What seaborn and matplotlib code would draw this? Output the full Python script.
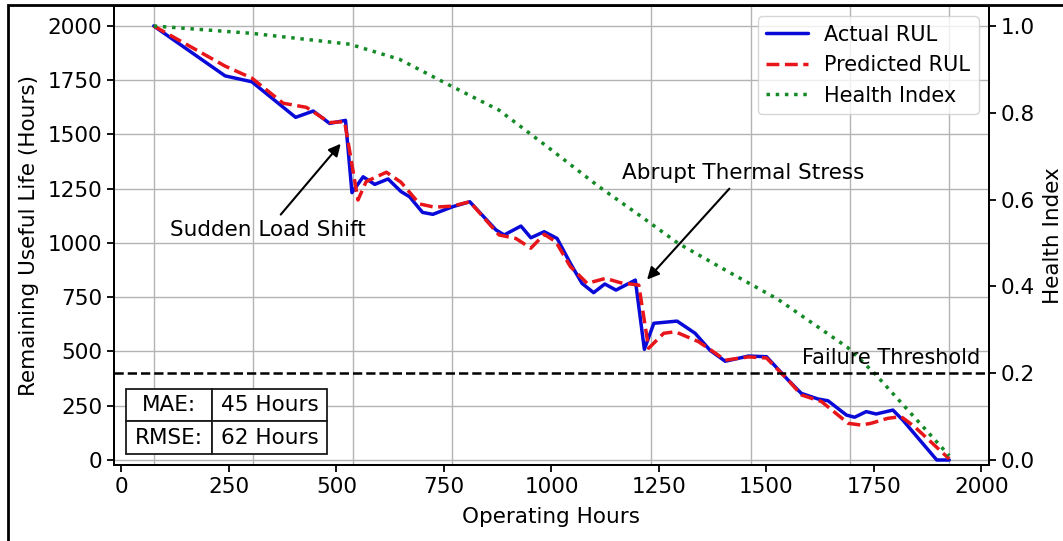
import matplotlib
matplotlib.use('Agg')
import matplotlib.pyplot as plt
from matplotlib.patches import Rectangle
import pandas as pd
import seaborn as sns

# Datos
hours_actual = [75, 241, 303, 405, 446, 484, 521, 536, 562, 589, 620, 650, 670, 700, 724,
                770, 810, 871, 890, 929, 952, 983, 1013, 1044, 1071, 1098, 1124, 1150,
                1195, 1216, 1238, 1292, 1334, 1369, 1404, 1458, 1500, 1550, 1581, 1620,
                1643, 1686, 1705, 1732, 1755, 1794, 1817, 1896, 1925]
rul_actual = [2000, 1770, 1743, 1579, 1608, 1551, 1565, 1232, 1305, 1270, 1295, 1237, 1213,
              1141, 1132, 1167, 1190, 1060, 1037, 1078, 1024, 1052, 1021, 906, 814, 771,
              811, 783, 829, 510, 630, 640, 584, 505, 455, 479, 476, 369, 307, 281, 273,
              207, 197, 223, 212, 230, 184, 0, 0]

hours_pred = [75, 241, 303, 376, 430, 484, 519, 550, 569, 616, 650, 693, 728, 770, 810,
              878, 917, 952, 983, 1010, 1044, 1083, 1126, 1160, 1203, 1226, 1261, 1288,
              1342, 1372, 1404, 1458, 1500, 1550, 1581, 1628, 1690, 1720, 1743, 1782,
              1813, 1844, 1925]
rul_pred = [2000, 1815, 1760, 1644, 1625, 1555, 1559, 1198, 1283, 1326, 1280, 1180, 1165,
            1170, 1190, 1037, 1021, 976, 1040, 1006, 891, 814, 837, 817, 806, 515, 584,
            591, 545, 505, 460, 475, 470, 369, 300, 269, 169, 161, 169, 192, 200, 154, 5]

hours_health = [75, 303, 531, 647, 762, 878, 990, 1110, 1203, 1295, 1400, 1527, 1689,
                1751, 1925]
health_index = [1.0, 0.983, 0.958, 0.923, 0.864, 0.806, 0.722, 0.630, 0.565, 0.499, 0.44,
                0.370, 0.259, 0.200, 0.01]

failure_threshold = 0.2
metric_rows = [['MAE:', '45 Hours'], ['RMSE:', '62 Hours']]
grid_hours = [75, 306, 538, 769, 1000, 1231, 1463, 1694, 1925]

df_actual = pd.DataFrame({'hours': hours_actual, 'rul': rul_actual})
df_pred = pd.DataFrame({'hours': hours_pred, 'rul': rul_pred})
df_health = pd.DataFrame({'hours': hours_health, 'hi': health_index})

sns.set_theme(style='ticks', rc={'axes.edgecolor': 'black', 'text.color': 'black',
                                 'xtick.color': 'black', 'ytick.color': 'black',
                                 'axes.labelcolor': 'black', 'axes.linewidth': 1.4})
plt.rcParams['font.family'] = ['DejaVu Sans']

fig = plt.figure(figsize=(10.63, 5.41), dpi=100)
ax = fig.add_axes([0.1072, 0.1405, 0.8232, 0.8484])
ax2 = ax.twinx()

sns.lineplot(data=df_actual, x='hours', y='rul', ax=ax, color='#0a0ad8', lw=2.5,
             legend=False, zorder=3)
sns.lineplot(data=df_pred, x='hours', y='rul', ax=ax, color='#e8161a', lw=2.5,
             linestyle='--', legend=False, zorder=3)
sns.lineplot(data=df_health, x='hours', y='hi', ax=ax2, color='#138a25', lw=2.5,
             linestyle=':', legend=False)
ax2.axhline(failure_threshold, color='black', linestyle='--', lw=1.8)
ax2.text(1998, 0.212, 'Failure Threshold', ha='right', va='bottom', fontsize=15)

# Ejes y rejilla
ax.set_xlim(-17.5, 2017.5)
ax.set_ylim(-23, 2092)
ax2.set_ylim(-0.0115, 1.046)
ax.set_xticks(range(0, 2001, 250))
ax.set_yticks(range(0, 2001, 250))
ax2.set_yticks([0.0, 0.2, 0.4, 0.6, 0.8, 1.0])
ax2.set_yticklabels(['0.0', '0.2', '0.4', '0.6', '0.8', '1.0'])
ax.set_xticks(grid_hours, minor=True)
ax.yaxis.grid(True, color='#b3b3b3', lw=1)
ax.xaxis.grid(True, which='minor', color='#b3b3b3', lw=1)
ax.tick_params(axis='x', which='minor', length=0)
ax.tick_params(axis='both', which='major', labelsize=15.5, length=5, width=1.3)
ax2.tick_params(axis='y', labelsize=15.5, length=5, width=1.3)
ax.set_xlabel('Operating Hours', fontsize=15.5, labelpad=7)
ax.set_ylabel('Remaining Useful Life (Hours)', fontsize=15.5, labelpad=6)
ax2.set_ylabel('Health Index', fontsize=15.5, labelpad=6)

# Anotaciones
arrow = dict(arrowstyle='-|>', color='black', lw=1.5, mutation_scale=18)
ax.annotate('Sudden Load Shift', xy=(514, 1467), xytext=(340, 1060), ha='center',
            va='center', fontsize=15.5, arrowprops=arrow)
ax.annotate('Abrupt Thermal Stress', xy=(1218, 822), xytext=(1446, 1321), ha='center',
            va='center', fontsize=15.5, arrowprops=arrow)

# Tabla de metricas
tbl = ax.table(cellText=metric_rows, cellLoc='center', colWidths=[0.0983, 0.1314],
               bbox=[0.0137, 0.024, 0.2297, 0.1416])
tbl.auto_set_font_size(False)
tbl.set_fontsize(15.5)
for cell in tbl.get_celld().values():
    cell.set_linewidth(1.3)
tbl.set_zorder(5)

# Leyenda
handles = [ax.get_lines()[0], ax.get_lines()[1], ax2.get_lines()[0]]
ax2.legend(handles, ['Actual RUL', 'Predicted RUL', 'Health Index'], loc='upper right',
           fontsize=15, framealpha=0.8)

# Borde de la figura
fig.add_artist(Rectangle((0.0075, -0.5), 2, 1.4908, transform=fig.transFigure,
                         fill=False, ec='black', lw=2))

fig.savefig('out.png', dpi=100)
